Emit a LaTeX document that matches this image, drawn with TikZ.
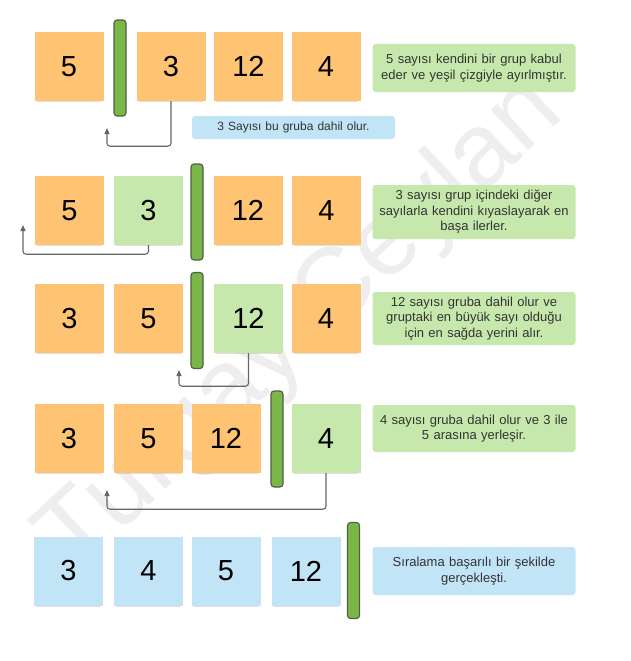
\documentclass[tikz,border=0pt]{standalone}
\usepackage{fontspec}
\setmainfont{Liberation Sans}
\usepackage{tikz}
\usetikzlibrary{calc,positioning,shadows,arrows.meta}
\definecolor{stickyOrange}{HTML}{FFC374}
\definecolor{stickyGreen}{HTML}{C7E8AC}
\definecolor{stickyBlue}{HTML}{C1E4F7}
\definecolor{barGreen}{HTML}{7AB648}
\definecolor{barLine}{HTML}{4E5F44}
\definecolor{noteText}{HTML}{333333}
\definecolor{arrowGray}{HTML}{666666}
\definecolor{markGray}{HTML}{EEEEEE}
\tikzstyle{Sticky} = [rectangle, minimum width=69pt, minimum height=69pt, inner sep=0pt,
    font=\fontsize{29}{34}\selectfont,
    drop shadow={shadow xshift=0pt, shadow yshift=-3.5pt, shadow scale=0.94, opacity=0.25}]
\tikzstyle{Orange} = [Sticky, fill=stickyOrange]
\tikzstyle{Green} = [Sticky, fill=stickyGreen]
\tikzstyle{Blue} = [Sticky, fill=stickyBlue]
\tikzstyle{Bar} = [rectangle, rounded corners=3pt, minimum width=12pt, minimum height=96pt,
    inner sep=0pt, draw=barLine, line width=1.1pt, fill=barGreen]
\tikzstyle{Note} = [rectangle, rounded corners=3pt, minimum width=203pt, text width=200pt,
    align=center, inner sep=0pt, text=noteText, font=\fontsize{13}{15.5}\selectfont]
\tikzstyle{back} = [arrowGray, line width=1.1pt, rounded corners=3pt,
    -{Triangle[length=6pt,width=5pt]}]
\tikzstyle{Watermark} = [text=markGray, rotate=43, font=\fontsize{104}{104}\selectfont]

\begin{document}
\begin{tikzpicture}[x=1pt, y=-1pt]
        \useasboundingbox (0,0) rectangle (630,661);
        \node[Watermark] (Mark) at (302,326) {Turgay Ceylan}; %watermark
        % row 1
        \node[Orange] (OneFive) at (69,66.5) {5};
        \node[Bar] (OneBar) at (120,68) {}; %group line
        \node[Orange] (OneThree) at (171,66.5) {3};
        \node[Orange] (OneTwelve) at (248.5,66.5) {12};
        \node[Orange] (OneFour) at (326,66.5) {4};
        \node[Note, fill=stickyGreen, minimum height=48pt] (OneNote) at (474,68) {
            5 sayısı kendini bir grup kabul\\eder ve yeşil çizgiyle ayırlmıştır.
        };
        \node[Note, fill=stickyBlue, minimum height=23pt, font=\fontsize{12}{14}\selectfont] (OneJoin) at (293.5,127.5) {
            3 Sayısı bu gruba dahil olur.
        };
        \coordinate (OneTip) at (107,128);
        \draw[back] (OneThree.south) -- ++(0,45) -| (OneTip);
        % row 2
        \node[Orange] (TwoFive) at (69.5,210.5) {5};
        \node[Green] (TwoThree) at (148.5,210.5) {3};
        \node[Bar] (TwoBar) at (197,212) {}; %group line
        \node[Orange] (TwoTwelve) at (248,210.5) {12};
        \node[Orange] (TwoFour) at (326.5,210.5) {4};
        \node[Note, fill=stickyGreen, minimum height=54pt] (TwoNote) at (474,212) {
            3 sayısı grup içindeki diğer\\sayılarla kendini kıyaslayarak en\\başa ilerler.
        };
        \coordinate (TwoTip) at (23,225);
        \draw[back] (TwoThree.south) -- ++(0,9) -| (TwoTip);
        % row 3
        \node[Orange] (ThreeThree) at (69.5,318.5) {3};
        \node[Orange] (ThreeFive) at (148.5,318.5) {5};
        \node[Bar] (ThreeBar) at (197,320.5) {}; %group line
        \node[Green] (ThreeTwelve) at (248.5,318.5) {12};
        \node[Orange] (ThreeFour) at (326,318.5) {4};
        \node[Note, fill=stickyGreen, minimum height=53pt] (ThreeNote) at (474,318.5) {
            12 sayısı gruba dahil olur ve\\gruptaki en büyük sayı olduğu\\için en sağda yerini alır.
        };
        \coordinate (ThreeTip) at (179,370);
        \draw[back] (ThreeTwelve.south) -- ++(0,33) -| (ThreeTip);
        % row 4
        \node[Orange] (FourThree) at (69,438.5) {3};
        \node[Orange] (FourFive) at (148.5,438.5) {5};
        \node[Orange] (FourTwelve) at (226,438.5) {12};
        \node[Bar] (FourBar) at (277,439) {}; %group line
        \node[Green] (FourFour) at (326,438.5) {4};
        \node[Note, fill=stickyGreen, minimum height=47pt] (FourNote) at (474,428.5) {
            4 sayısı gruba dahil olur ve 3 ile\\5 arasına yerleşir.
        };
        \coordinate (FourTip) at (107,490);
        \draw[back] (FourFour.south) -- ++(0,36) -| (FourTip);
        % row 5
        \node[Blue] (FiveThree) at (68.5,571) {3};
        \node[Blue] (FiveFour) at (148.5,571) {4};
        \node[Blue] (FiveFive) at (226,571) {5};
        \node[Blue] (FiveTwelve) at (306,571) {12};
        \node[Bar] (FiveBar) at (353.5,570.5) {}; %group line
        \node[Note, fill=stickyBlue, minimum height=48pt] (FiveNote) at (474,571) {
            Sıralama başarılı bir şekilde\\gerçekleşti.
        };
    \end{tikzpicture}
\end{document}
